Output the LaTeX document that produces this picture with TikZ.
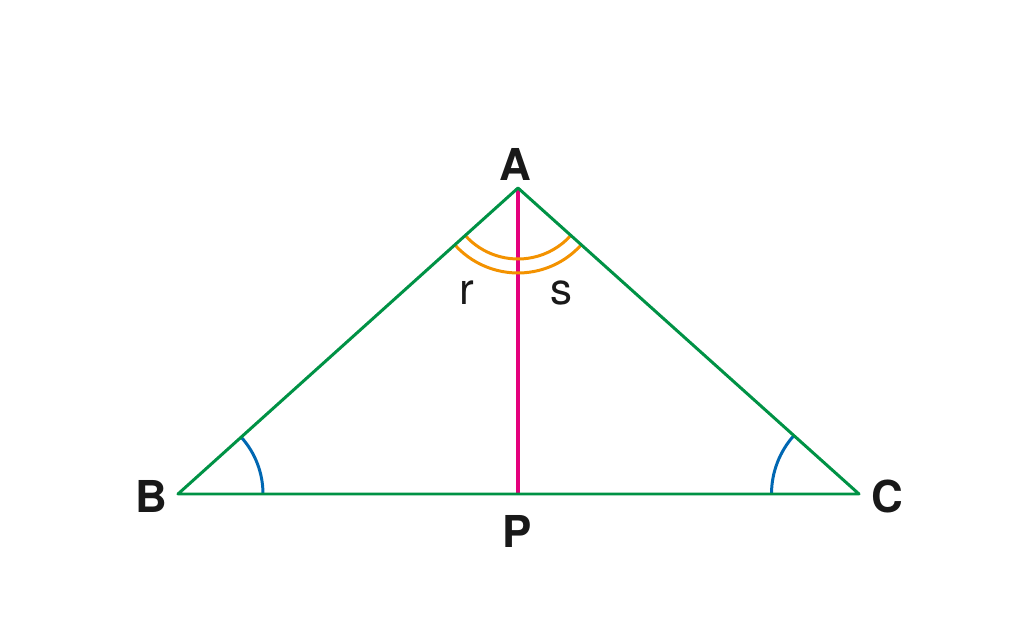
\documentclass[tikz,border=0pt]{standalone}
\usepackage{fontspec}
\setmainfont{TeX Gyre Heros}
\definecolor{sidegreen}{RGB}{0,146,69}
\definecolor{heightpink}{RGB}{228,0,124}
\definecolor{angleorange}{RGB}{243,146,0}
\definecolor{angleblue}{RGB}{0,103,178}
\tikzset{
	side/.style={sidegreen,line width=1.7pt},
	vertex/.style={font=\fontsize{25}{25}\selectfont\bfseries,text=black!90},
	anglelabel/.style={font=\fontsize{25}{25}\selectfont,text=black!90}
}
\begin{document}
\begin{tikzpicture}
		\useasboundingbox (0,0) rectangle (20.52,12.38);
		\coordinate (A) at (10.36,8.62);
		\coordinate (B) at (3.56,2.50);
		\coordinate (C) at (17.18,2.50);
		\coordinate (P) at (10.36,2.50);
		\draw[heightpink,line width=2.8pt] (A)--(P);
		\foreach \r in {1.42,1.70}{
			\draw[angleorange,line width=1.7pt] ([shift={(222:\r)}]A) arc (222:318:\r);
		}
		\draw[angleblue,line width=1.7pt] ([shift={(0:1.70)}]B) arc (0:42:1.70);
		\draw[angleblue,line width=1.7pt] ([shift={(138:1.75)}]C) arc (138:180:1.75);
		\draw[side,line join=round] (B)--(A)--(C)--cycle;
		\node[vertex] (lA) at (10.30,9.09) {A};
		\node[vertex] (lB) at (3.02,2.46) {B};
		\node[vertex] (lC) at (17.74,2.46) {C};
		\node[vertex] (lP) at (10.34,1.76) {P};
		\node[anglelabel] (lr) at (9.34,6.52) {r};
		\node[anglelabel] (ls) at (11.22,6.52) {s};
	\end{tikzpicture}
\end{document}
